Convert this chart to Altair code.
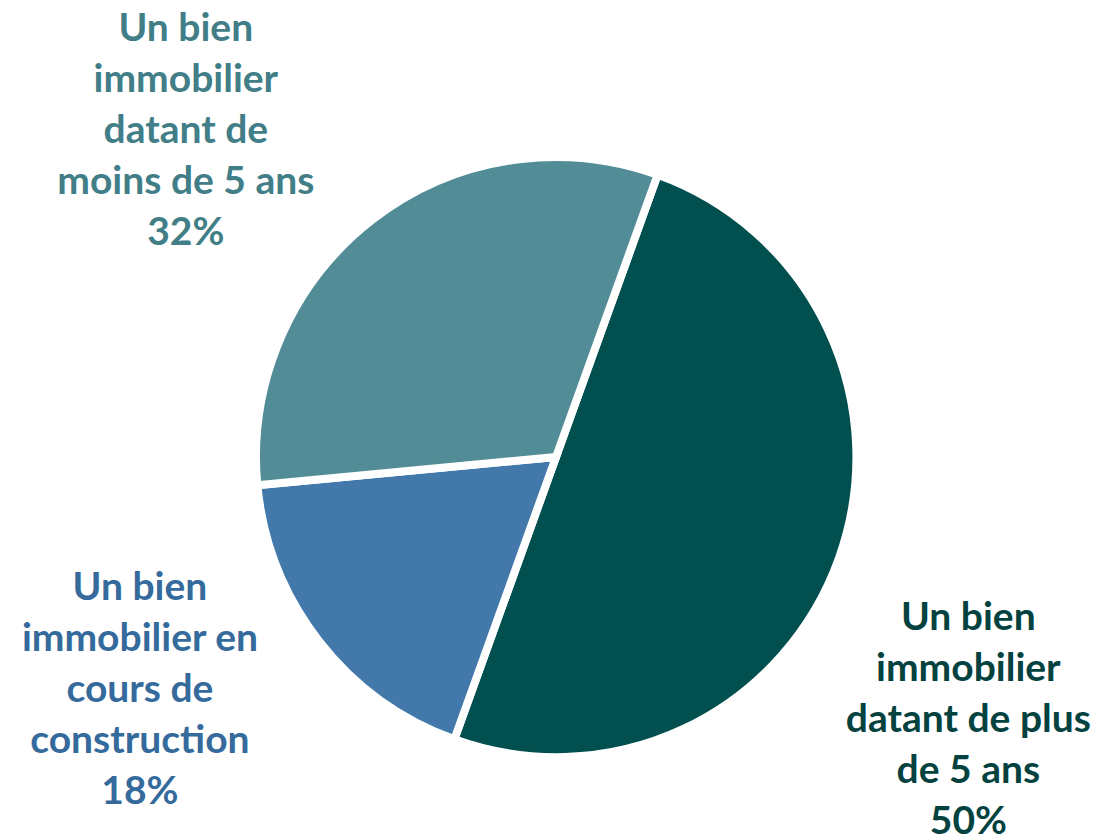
import math
import altair as alt
import pandas as pd

categories = [
    "Un bien immobilier datant de plus de 5 ans",
    "Un bien immobilier en cours de construction",
    "Un bien immobilier datant de moins de 5 ans",
]
values = [50, 18, 32]
labels = [
    "Un bien\nimmobilier\ndatant de plus\nde 5 ans\n50%",
    "Un bien\nimmobilier en\ncours de\nconstruction\n18%",
    "Un bien\nimmobilier\ndatant de\nmoins de 5 ans\n32%",
]
slice_colors = ["#024F50", "#4279AA", "#528D97"]
text_colors = ["#03423F", "#356A9D", "#417E87"]
order = [1, 2, 3]

df = pd.DataFrame({"cat": categories, "value": values, "label": labels, "order": order})

start = math.radians(19.8)
theta_scale = alt.Scale(domain=[0, 100], range=[start, start + 2 * math.pi])

pie = alt.Chart(df).mark_arc(outerRadius=300, stroke="white", strokeWidth=8).encode(
    theta=alt.Theta("value:Q", stack=True, scale=theta_scale),
    color=alt.Color("cat:N", scale=alt.Scale(domain=categories, range=slice_colors), legend=None),
    order=alt.Order("order:Q"),
)

line_h = 51
offsets = [(36, 128 - 2 * line_h), (-100, -12 - 2 * line_h), (-125, -10 - 2 * line_h)]
layers = [pie]
for i, cat in enumerate(categories):
    dx, dy = offsets[i]
    t = (
        alt.Chart(df)
        .transform_window(cum="sum(value)", sort=[alt.SortField("order")], frame=[None, 0])
        .transform_calculate(mid="datum.cum - datum.value / 2")
        .transform_filter(alt.datum.cat == cat)
        .mark_text(
            font="Lato", fontWeight="bold", fontSize=39, lineBreak="\n", lineHeight=line_h,
            align="center", baseline="middle", dx=dx, dy=dy, color=text_colors[i],
        )
        .encode(
            theta=alt.Theta("mid:Q", scale=theta_scale),
            radius=alt.value(400),
            text="label:N",
        )
    )
    layers.append(t)

chart = (
    alt.layer(*layers)
    .properties(
        width=1074, height=744,
        padding={"left": 11, "top": 77, "right": 0, "bottom": 8},
        autosize=alt.AutoSizeParams(type="none"),
    )
    .configure_view(stroke=None)
)

chart.save("out.html", embed_options={"renderer": "svg", "actions": False})
